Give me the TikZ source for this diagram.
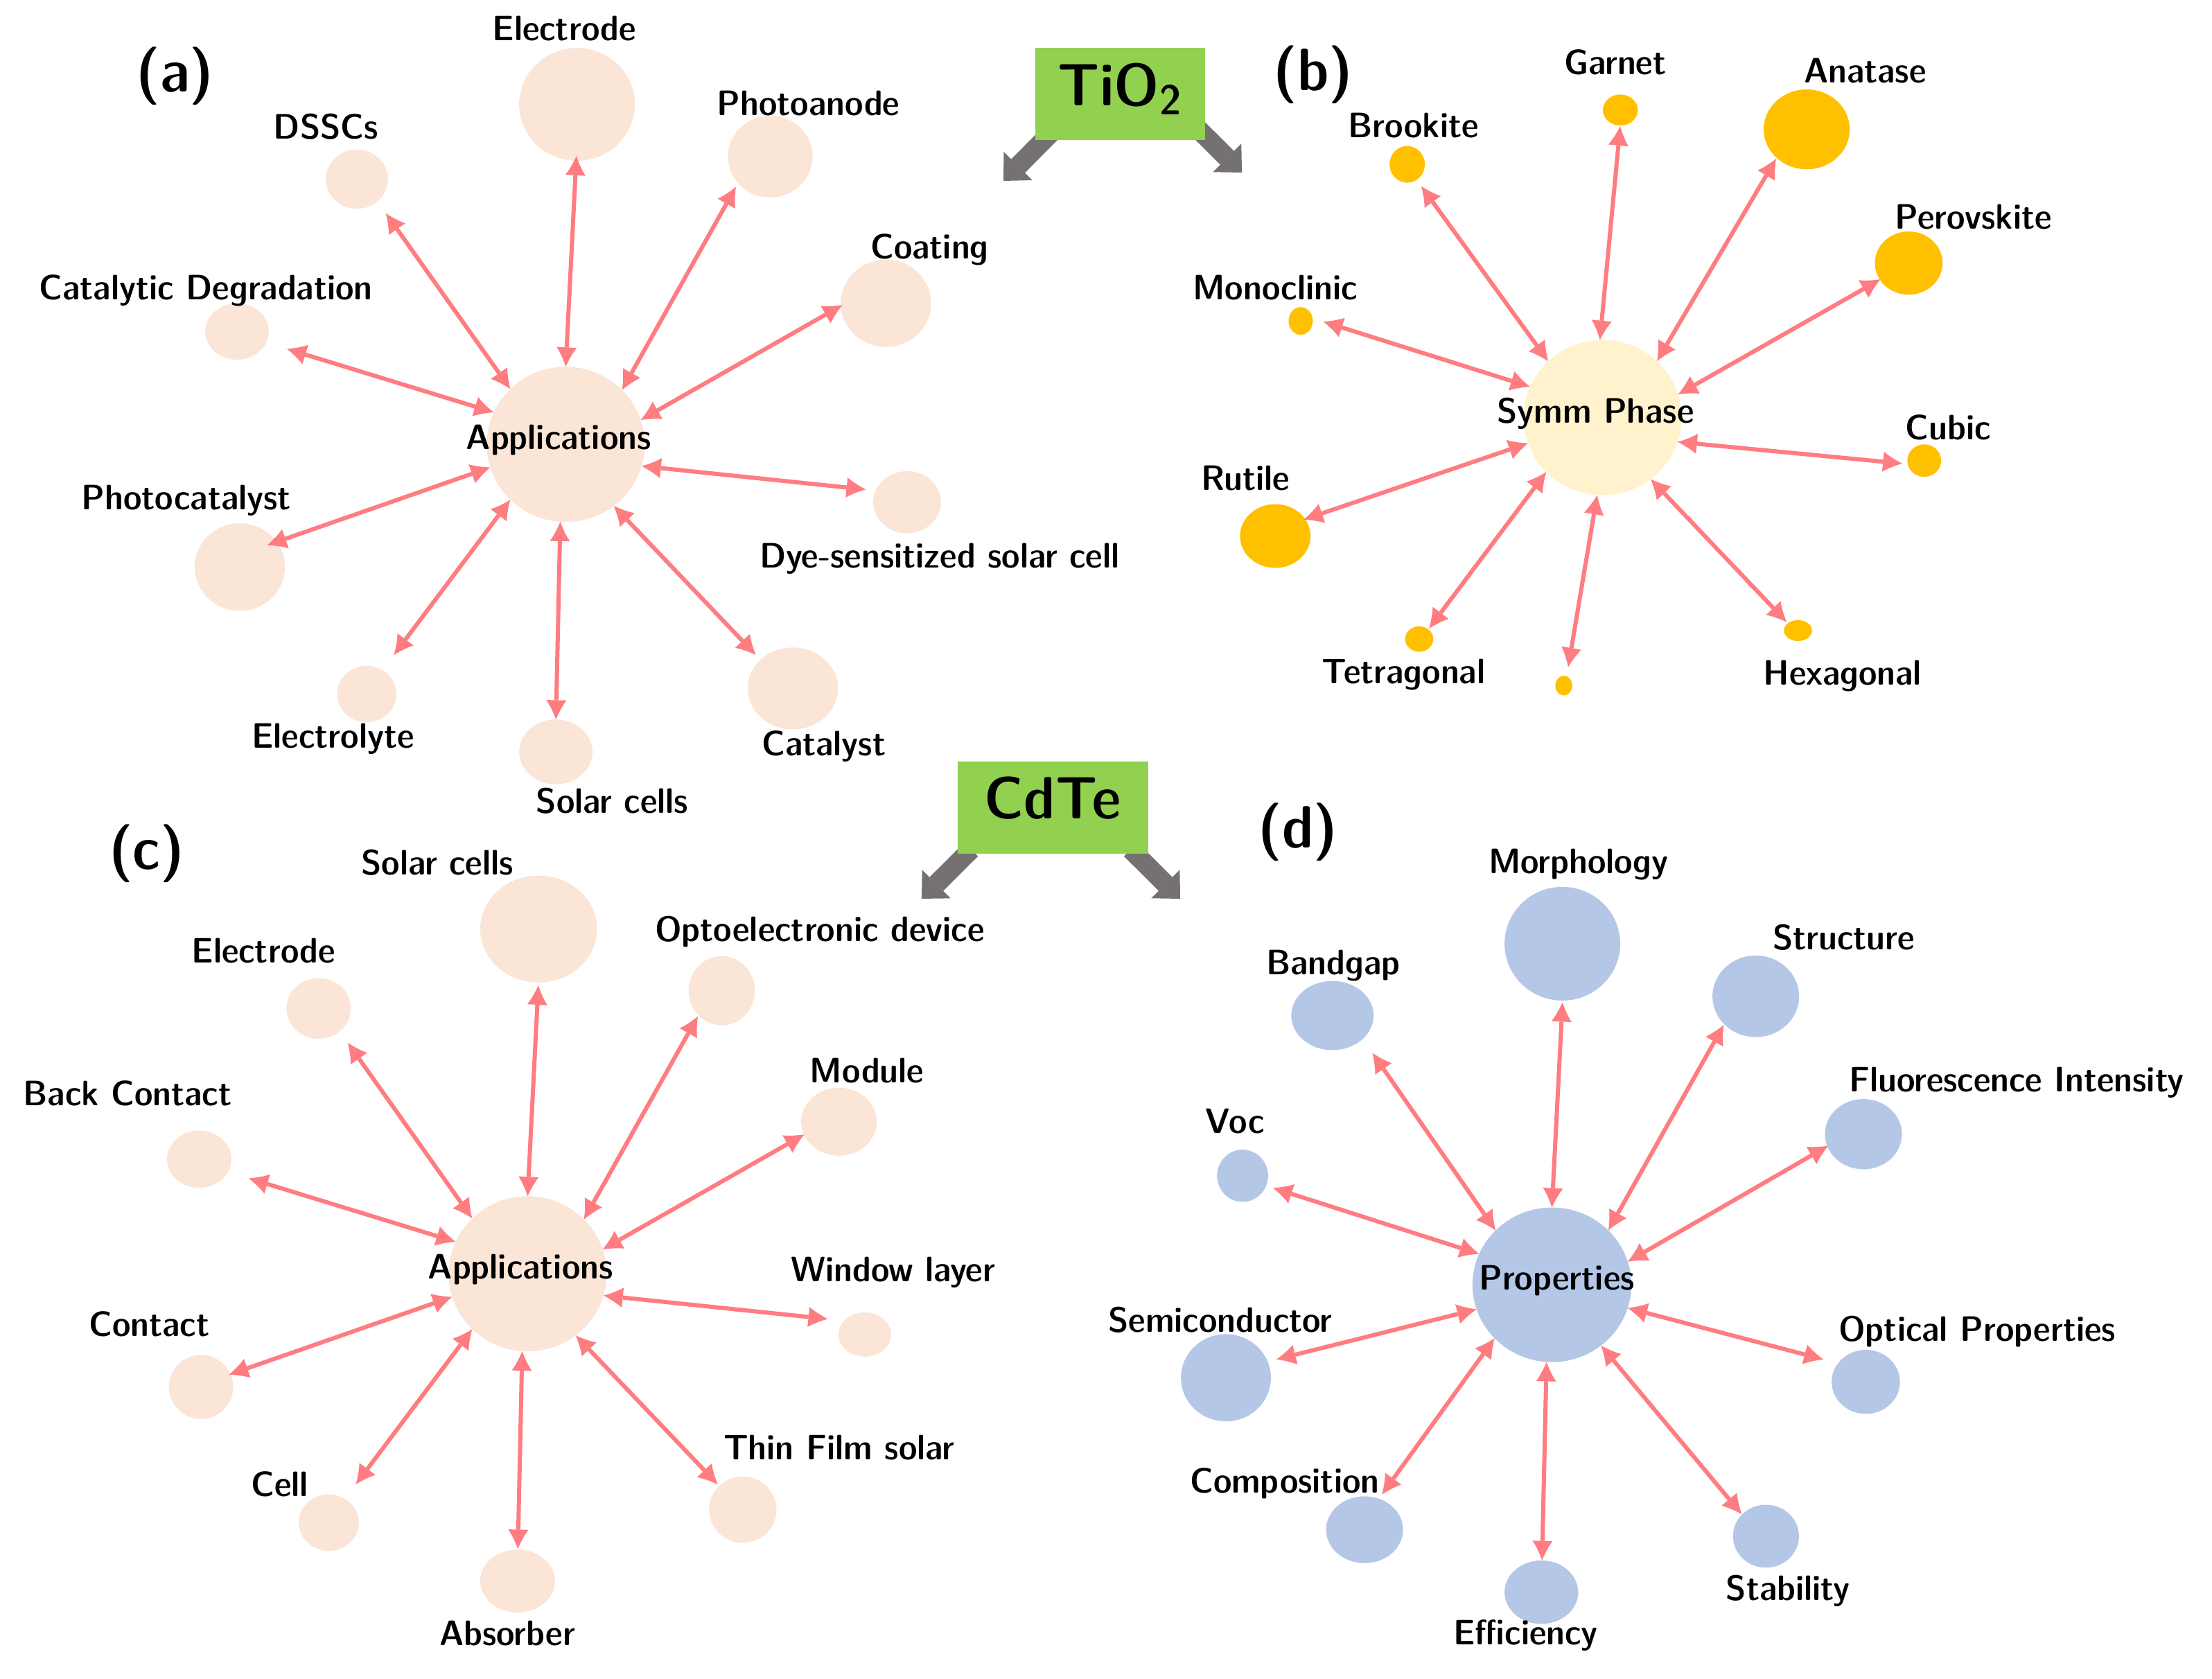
\documentclass[tikz,border=0pt]{standalone}
\usetikzlibrary{shapes.geometric,arrows.meta,calc,backgrounds}
\definecolor{arr}{HTML}{FF7C80}
\definecolor{peach}{HTML}{FBE5D6}
\definecolor{cream}{HTML}{FFF2CC}
\definecolor{gold}{HTML}{FFC000}
\definecolor{blu}{HTML}{B4C7E7}
\definecolor{grn}{HTML}{92D050}
\definecolor{gry}{HTML}{767171}
\newdimen\pxu \pxu=0.020357cm
\newcommand{\sxtxt}[1]{\scalebox{1.09}[1]{#1}}
\tikzset{
  bub/.style args={#1/#2/#3}{ellipse, fill=#1, draw=none, inner sep=0pt, outer sep=0pt,
     minimum width=#2*2*\pxu, minimum height=#3*2*\pxu},
  lbl/.style={inner sep=0pt, font=\sffamily\fontseries{sbc}\fontsize{14.5}{17}\selectfont},
  ttl/.style={inner sep=0pt, font=\sffamily\fontseries{sbc}\fontsize{24.5}{29}\selectfont},
  biarr/.style={draw=arr, line width=0.06cm,
     {Latex[length=0.28cm,width=0.29cm,line width=0pt]}-{Latex[length=0.28cm,width=0.29cm,line width=0pt]}},
  blk/.style={draw=gry, line width=0.28cm, -{Triangle[width=0.58cm,length=0.3cm,line width=0pt]}},
  gbox/.style={fill=grn, draw=none, inner sep=0pt, outer sep=0pt}
}
\begin{document}
\begin{tikzpicture}[x=0.020357cm, y=-0.020357cm]
\useasboundingbox (0,0) rectangle (1568,1190);

% ---------- green boxes and grey arrows ----------
\node[gbox, minimum width=120*\pxu, minimum height=65*\pxu] (tio) at (794,66.6) {};
\node[ttl, anchor=base] (tiot) at (794,74.7) {\sxtxt{TiO\textsubscript{2}}};
\node[gbox, minimum width=135*\pxu, minimum height=65.3*\pxu] (cdte) at (746.5,572.6) {};
\node[ttl, anchor=base] (cdtet) at (746.2,580.5) {\sxtxt{CdTe}};
\coordinate (tioL) at (711.3,128.2);
\coordinate (tioR) at (880.3,122.3);
\coordinate (cdL) at (653.3,637.1);
\coordinate (cdR) at (836.6,637.1);
\begin{scope}[on background layer]
\draw[blk] ($(tio.south west)+(12,-6)$) -- (tioL);
\draw[blk] ($(tio.south east)+(-8,-11)$) -- (tioR);
\draw[blk] ($(cdte.south west)+(9.4,-3.1)$) -- (cdL);
\draw[blk] ($(cdte.south east)+(-12.4,-3.1)$) -- (cdR);
\end{scope}

% ---------- panel letters ----------
\node[ttl] (pa) at (124,54) {\sxtxt{(a)}};
\node[ttl] (pb) at (931,53) {\sxtxt{(b)}};
\node[ttl] (pc) at (104,605) {\sxtxt{(c)}};
\node[ttl] (pd) at (920,590) {\sxtxt{(d)}};

% ================= panel (a) =================
\node[bub=peach/56/55] (A) at (401,315) {};
\node[bub=peach/41/40] (a1) at (409,74) {};
\node[bub=peach/22/21] (a2) at (253,127) {};
\node[bub=peach/30/29] (a3) at (546,111) {};
\node[bub=peach/32/31] (a4) at (628,215) {};
\node[bub=peach/22.5/20] (a5) at (168,235) {};
\node[bub=peach/24/22] (a6) at (643,356) {};
\node[bub=peach/32/31] (a7) at (170,402) {};
\node[bub=peach/21/20] (a8) at (260,492) {};
\node[bub=peach/26/23] (a9) at (394,533) {};
\node[bub=peach/32/29] (a10) at (562,488) {};
\node[lbl] (At) at (396,312) {\sxtxt{Applications}};
\node[lbl] (la1) at (400,20) {\sxtxt{Electrode}};
\node[lbl] (la2) at (231,90) {\sxtxt{DSSCs}};
\node[lbl] (la3) at (573,73) {\sxtxt{Photoanode}};
\node[lbl] (la4) at (659,177) {\sxtxt{Coating}};
\node[lbl] (la5) at (146,206) {\sxtxt{Catalytic Degradation}};
\node[lbl] (la6) at (666,396) {\sxtxt{Dye-sensitized solar cell}};
\node[lbl] (la7) at (132,355) {\sxtxt{Photocatalyst}};
\node[lbl] (la8) at (236,524) {\sxtxt{Electrolyte}};
\node[lbl] (la9) at (434,568) {\sxtxt{Solar cells}};
\node[lbl] (la10) at (584,529) {\sxtxt{Catalyst}};
\coordinate (ta1) at (408.6,110.5);
\coordinate (ta2) at (273.5,151.2);
\coordinate (ta3) at (521.7,132.4);
\coordinate (ta4) at (597.2,216.2);
\coordinate (ta5) at (203.3,247.3);
\coordinate (ta6) at (613.8,347);
\coordinate (ta7) at (189.3,386.5);
\coordinate (ta8) at (279.2,464.3);
\coordinate (ta9) at (394.1,510.1);
\coordinate (ta10) at (535.8,464.3);
\draw[biarr] (A.90) -- (ta1);
\draw[biarr] (A.135) -- (ta2);
\draw[biarr] (A.44.5) -- (ta3);
\draw[biarr] (A.18) -- (ta4);
\draw[biarr] (A.156) -- (ta5);
\draw[biarr] (A.344) -- (ta6);
\draw[biarr] (A.197.7) -- (ta7);
\draw[biarr] (A.225) -- (ta8);
\draw[biarr] (A.266.6) -- (ta9);
\draw[biarr] (A.308.6) -- (ta10);

% ================= panel (b) =================
\node[bub=cream/56/55] (B) at (1136,296) {};
\node[bub=gold/12.4/11] (b1) at (1148.6,78) {};
\node[bub=gold/12.5/13] (b2) at (997.5,116.5) {};
\node[bub=gold/30.5/28.3] (b3) at (1280.7,91.7) {};
\node[bub=gold/24/22.4] (b4) at (1353,186.5) {};
\node[bub=gold/8.6/9.8] (b5) at (922,227.5) {};
\node[bub=gold/12/11.5] (b6) at (1364,326.5) {};
\node[bub=gold/25/22.6] (b7) at (904,380) {};
\node[bub=gold/10/9] (b8) at (1006,453) {};
\node[bub=gold/6/7] (b9) at (1108.5,486) {};
\node[bub=gold/10/7.4] (b10) at (1274.5,447) {};
\node[lbl] (Bt) at (1131,293) {\sxtxt{Symm Phase}};
\node[lbl] (lb1) at (1145,44) {\sxtxt{Garnet}};
\node[lbl] (lb2) at (1002,89) {\sxtxt{Brookite}};
\node[lbl] (lb3) at (1322,50) {\sxtxt{Anatase}};
\node[lbl] (lb4) at (1399,154) {\sxtxt{Perovskite}};
\node[lbl] (lb5) at (904,204) {\sxtxt{Monoclinic}};
\node[lbl] (lb6) at (1381,303) {\sxtxt{Cubic}};
\node[lbl] (lb7) at (883,339) {\sxtxt{Rutile}};
\node[lbl] (lb8) at (995,478) {\sxtxt{Tetragonal}};
\node[lbl] (lb10) at (1306,479) {\sxtxt{Hexagonal}};
\coordinate (tb1) at (1148.5,89.4);
\coordinate (tb2) at (1007.5,132);
\coordinate (tb3) at (1259,112.5);
\coordinate (tb4) at (1333,198);
\coordinate (tb5) at (938,228);
\coordinate (tb6) at (1348.5,328.6);
\coordinate (tb7) at (924,368.4);
\coordinate (tb8) at (1013,445.5);
\coordinate (tb9) at (1111.6,473);
\coordinate (tb10) at (1266.5,441);
\draw[biarr] (B.92) -- (tb1);
\draw[biarr] (B.134) -- (tb2);
\draw[biarr] (B.46) -- (tb3);
\draw[biarr] (B.17) -- (tb4);
\draw[biarr] (B.157) -- (tb5);
\draw[biarr] (B.342) -- (tb6);
\draw[biarr] (B.199) -- (tb7);
\draw[biarr] (B.224) -- (tb8);
\draw[biarr] (B.266) -- (tb9);
\draw[biarr] (B.308.5) -- (tb10);

% ================= panel (c) =================
\node[bub=peach/56/55] (C) at (374,903) {};
\node[bub=peach/41.4/37.9] (c1) at (381.8,658.6) {};
\node[bub=peach/22.8/21.5] (c2) at (225.9,714.9) {};
\node[bub=peach/23.5/24.5] (c3) at (511.6,702.3) {};
\node[bub=peach/26.8/24.1] (c4) at (594.7,795.2) {};
\node[bub=peach/22.8/20.3] (c5) at (141.2,821.7) {};
\node[bub=peach/18.6/15.7] (c6) at (613,946) {};
\node[bub=peach/22.8/22.7] (c7) at (142.5,983.2) {};
\node[bub=peach/21.3/20] (c8) at (233.1,1079.4) {};
\node[bub=peach/26.5/22.3] (c9) at (366.9,1120.8) {};
\node[bub=peach/23.9/23.5] (c10) at (526.5,1070.2) {};
\node[lbl] (Ct) at (369,900) {\sxtxt{Applications}};
\node[lbl] (lc1) at (310,611.6) {\sxtxt{Solar cells}};
\node[lbl] (lc2) at (186.8,674.2) {\sxtxt{Electrode}};
\node[lbl] (lc3) at (581,660.6) {\sxtxt{Optoelectronic device}};
\node[lbl] (lc4) at (614.5,759.1) {\sxtxt{Module}};
\node[lbl] (lc5) at (90.4,775.1) {\sxtxt{Back Contact}};
\node[lbl] (lc6) at (633,902) {\sxtxt{Window layer}};
\node[lbl] (lc7) at (105.9,938.6) {\sxtxt{Contact}};
\node[lbl] (lc8) at (198.2,1052.3) {\sxtxt{Cell}};
\node[lbl] (lc9) at (359.6,1158) {\sxtxt{Absorber}};
\node[lbl] (lc10) at (594.7,1026) {\sxtxt{Thin Film solar}};
\coordinate (tc1) at (381.6,698.5);
\coordinate (tc2) at (246.5,739.2);
\coordinate (tc3) at (494.7,720.4);
\coordinate (tc4) at (570.2,804.2);
\coordinate (tc5) at (176.3,835.3);
\coordinate (tc6) at (586.8,935);
\coordinate (tc7) at (162.3,974.5);
\coordinate (tc8) at (252.2,1052.3);
\coordinate (tc9) at (367.1,1098.1);
\coordinate (tc10) at (508.8,1052.3);
\draw[biarr] (C.90) -- (tc1);
\draw[biarr] (C.135) -- (tc2);
\draw[biarr] (C.44.5) -- (tc3);
\draw[biarr] (C.18) -- (tc4);
\draw[biarr] (C.156) -- (tc5);
\draw[biarr] (C.344) -- (tc6);
\draw[biarr] (C.197.7) -- (tc7);
\draw[biarr] (C.225) -- (tc8);
\draw[biarr] (C.266.6) -- (tc9);
\draw[biarr] (C.308.6) -- (tc10);

% ================= panel (d) =================
\node[bub=blu/56.3/54.8] (D) at (1100.1,910.8) {};
\node[bub=blu/41/40.3] (d1) at (1107.5,669) {};
\node[bub=blu/29.2/24.5] (d2) at (944.5,719.9) {};
\node[bub=blu/30.7/28.9] (d3) at (1244.6,706.3) {};
\node[bub=blu/27.3/24.9] (d4) at (1320.9,804) {};
\node[bub=blu/18.1/18.5] (d5) at (880.8,833.5) {};
\node[bub=blu/31.9/30.9] (d6) at (869,976.7) {};
\node[bub=blu/24.2/22.7] (d7) at (1322.6,979.6) {};
\node[bub=blu/27.3/23.7] (d8) at (967.3,1084.4) {};
\node[bub=blu/26.1/22.5] (d9) at (1092.6,1128.7) {};
\node[bub=blu/23.4/22.3] (d10) at (1251.8,1089) {};
\node[lbl] (Dt) at (1103.5,907.9) {\sxtxt{Properties}};
\node[lbl] (ld1) at (1118.9,612.8) {\sxtxt{Morphology}};
\node[lbl] (ld2) at (945,684.5) {\sxtxt{Bandgap}};
\node[lbl] (ld3) at (1306.9,664.6) {\sxtxt{Structure}};
\node[lbl] (ld4) at (1429.5,767.5) {\sxtxt{Fluorescence Intensity}};
\node[lbl] (ld5) at (875.5,795) {\sxtxt{Voc}};
\node[lbl] (ld6) at (865,935.8) {\sxtxt{Semiconductor}};
\node[lbl] (ld7) at (1401.5,943.8) {\sxtxt{Optical Properties}};
\node[lbl] (ld8) at (910.7,1051.5) {\sxtxt{Composition}};
\node[lbl] (ld9) at (1081.5,1159.1) {\sxtxt{Efficiency}};
\node[lbl] (ld10) at (1267.5,1128) {\sxtxt{Stability}};
\coordinate (td1) at (1107.6,710.5);
\coordinate (td2) at (972.8,746.4);
\coordinate (td3) at (1222,726.4);
\coordinate (td4) at (1296,812.2);
\coordinate (td5) at (902.3,842.1);
\coordinate (td6) at (904.7,963.7);
\coordinate (td7) at (1292.6,963.7);
\coordinate (td8) at (979.6,1059.4);
\coordinate (td9) at (1093.1,1106.1);
\coordinate (td10) at (1234.6,1073.4);
\draw[biarr] (D.90) -- (td1);
\draw[biarr] (D.136) -- (td2);
\draw[biarr] (D.44) -- (td3);
\draw[biarr] (D.17.6) -- (td4);
\draw[biarr] (D.157) -- (td5);
\draw[biarr] (D.198.6) -- (td6);
\draw[biarr] (D.343.4) -- (td7);
\draw[biarr] (D.223.7) -- (td8);
\draw[biarr] (D.266.5) -- (td9);
\draw[biarr] (D.309) -- (td10);
\end{tikzpicture}
\end{document}
